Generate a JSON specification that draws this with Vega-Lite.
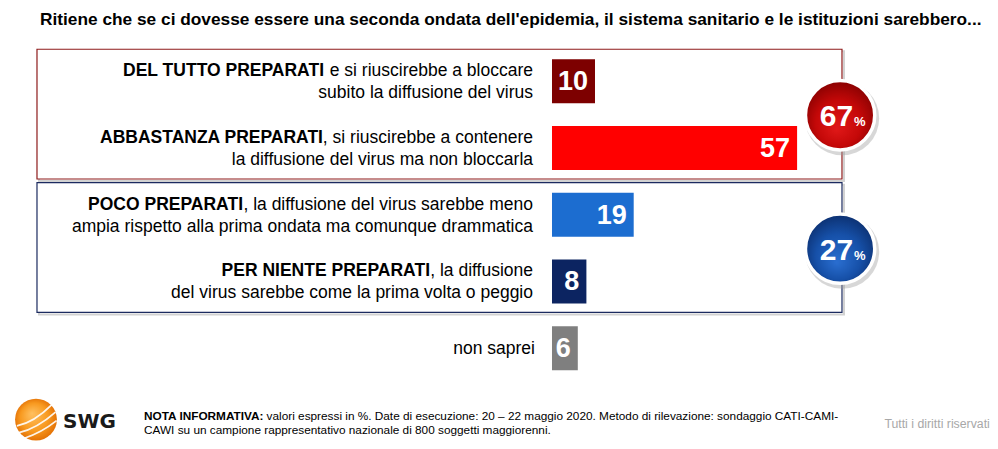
{
  "$schema": "https://vega.github.io/schema/vega-lite/v6.json",
  "width": 998,
  "height": 449,
  "autosize": {"type": "fit", "contains": "padding"},
  "padding": 0,
  "background": "white",
  "config": {"view": {"stroke": null}, "font": "Liberation Sans"},
  "datasets": {
    "risposte": [
      {"ordine": 1, "risposta": "Del tutto preparati", "grassetto": "DEL TUTTO PREPARATI", "riga1": " e si riuscirebbe a bloccare", "riga2": "subito la diffusione del virus", "valore": 10},
      {"ordine": 2, "risposta": "Abbastanza preparati", "grassetto": "ABBASTANZA PREPARATI", "riga1": ", si riuscirebbe a contenere", "riga2": "la diffusione del virus ma non bloccarla", "valore": 57},
      {"ordine": 3, "risposta": "Poco preparati", "grassetto": "POCO PREPARATI", "riga1": ", la diffusione del virus sarebbe meno", "riga2": "ampia rispetto alla prima ondata ma comunque drammatica", "valore": 19},
      {"ordine": 4, "risposta": "Per niente preparati", "grassetto": "PER NIENTE PREPARATI", "riga1": ", la diffusione", "riga2": "del virus sarebbe come la prima volta o peggio", "valore": 8},
      {"ordine": 5, "risposta": "Non saprei", "grassetto": "", "riga1": "non saprei", "riga2": "", "valore": 6}
    ],
    "gruppi": [
      {"gruppo": "Preparati", "da": 1, "a": 2, "totale": 67},
      {"gruppo": "Impreparati", "da": 3, "a": 4, "totale": 27}
    ],
    "testi": [
      {"testo": "Ritiene che se ci dovesse essere una seconda ondata dell'epidemia, il sistema sanitario e le istituzioni sarebbero..."}
    ]
  },
  "layer": [
    {
      "data": {"name": "gruppi"},
      "mark": {"type": "rect", "fillOpacity": 0, "stroke": "#d2d2d2", "strokeWidth": 2, "xOffset": 2, "x2Offset": 2, "yOffset": -30, "y2Offset": 33},
      "encoding": {
        "x": {"datum": -119.77, "type": "quantitative", "scale": {"domain": [-128.372, 103.721], "nice": false, "zero": false}, "axis": null},
        "x2": {"datum": 67.44},
        "y": {"field": "da", "type": "quantitative", "scale": {"domain": [-0.1429, 6.4359], "reverse": true, "nice": false, "zero": false}, "axis": null},
        "y2": {"field": "a"}
      }
    },
    {
      "data": {"name": "gruppi"},
      "mark": {"type": "rect", "fill": "white", "strokeWidth": 1.2, "yOffset": -32, "y2Offset": 31},
      "encoding": {
        "x": {"datum": -119.77, "type": "quantitative"}, "x2": {"datum": 67.44},
        "y": {"field": "da", "type": "quantitative"}, "y2": {"field": "a"},
        "stroke": {"field": "gruppo", "type": "nominal", "scale": {"domain": ["Preparati", "Impreparati"], "range": ["#8e1b1b", "#1c2b60"]}, "legend": null}
      }
    },
    {
      "data": {"name": "risposte"},
      "mark": {"type": "bar", "orient": "horizontal", "size": 44},
      "encoding": {
        "x": {"field": "valore", "type": "quantitative"},
        "x2": {"datum": 0},
        "y": {"field": "ordine", "type": "quantitative"},
        "color": {"field": "risposta", "type": "nominal", "scale": {"domain": ["Del tutto preparati", "Abbastanza preparati", "Poco preparati", "Per niente preparati", "Non saprei"], "range": ["#7d0000", "#ff0000", "#1c6dd0", "#0c2461", "#7f7f7f"]}, "legend": null}
      }
    },
    {
      "data": {"name": "risposte"},
      "mark": {"type": "text", "align": "right", "baseline": "middle", "dx": -7, "dy": 1, "fontSize": 27, "fontWeight": "bold", "color": "white"},
      "encoding": {"x": {"field": "valore", "type": "quantitative"}, "y": {"field": "ordine", "type": "quantitative"}, "text": {"field": "valore", "type": "quantitative"}}
    },
    {
      "data": {"name": "risposte"},
      "transform": [{"filter": "datum.ordine < 5"}],
      "mark": {"type": "text", "align": "right", "baseline": "alphabetic", "dx": -19, "dy": -5, "fontSize": 17.5, "color": "#000000"},
      "encoding": {"x": {"datum": 0, "type": "quantitative"}, "y": {"field": "ordine", "type": "quantitative"}, "text": {"field": "riga1"}}
    },
    {
      "data": {"name": "risposte"},
      "transform": [{"filter": "datum.ordine < 5"}],
      "mark": {"type": "text", "align": "right", "baseline": "alphabetic", "dx": -19, "dy": 17, "fontSize": 17.5, "color": "#000000"},
      "encoding": {"x": {"datum": 0, "type": "quantitative"}, "y": {"field": "ordine", "type": "quantitative"}, "text": {"field": "riga2"}}
    },
    {
      "data": {"name": "risposte"},
      "transform": [{"filter": "datum.ordine == 1"}],
      "mark": {"type": "text", "align": "right", "baseline": "alphabetic", "dx": -228, "dy": -5, "fontSize": 17.5, "fontWeight": "bold", "color": "#000000"},
      "encoding": {"x": {"datum": 0, "type": "quantitative"}, "y": {"field": "ordine", "type": "quantitative"}, "text": {"field": "grassetto"}}
    },
    {
      "data": {"name": "risposte"},
      "transform": [{"filter": "datum.ordine == 2"}],
      "mark": {"type": "text", "align": "right", "baseline": "alphabetic", "dx": -229, "dy": -5, "fontSize": 17.5, "fontWeight": "bold", "color": "#000000"},
      "encoding": {"x": {"datum": 0, "type": "quantitative"}, "y": {"field": "ordine", "type": "quantitative"}, "text": {"field": "grassetto"}}
    },
    {
      "data": {"name": "risposte"},
      "transform": [{"filter": "datum.ordine == 3"}],
      "mark": {"type": "text", "align": "right", "baseline": "alphabetic", "dx": -309, "dy": -5, "fontSize": 17.5, "fontWeight": "bold", "color": "#000000"},
      "encoding": {"x": {"datum": 0, "type": "quantitative"}, "y": {"field": "ordine", "type": "quantitative"}, "text": {"field": "grassetto"}}
    },
    {
      "data": {"name": "risposte"},
      "transform": [{"filter": "datum.ordine == 4"}],
      "mark": {"type": "text", "align": "right", "baseline": "alphabetic", "dx": -122, "dy": -5, "fontSize": 17.5, "fontWeight": "bold", "color": "#000000"},
      "encoding": {"x": {"datum": 0, "type": "quantitative"}, "y": {"field": "ordine", "type": "quantitative"}, "text": {"field": "grassetto"}}
    },
    {
      "data": {"name": "risposte"},
      "transform": [{"filter": "datum.ordine == 5"}],
      "mark": {"type": "text", "align": "right", "baseline": "alphabetic", "dx": -17, "dy": 6, "fontSize": 17.5, "color": "#000000"},
      "encoding": {"x": {"datum": 0, "type": "quantitative"}, "y": {"field": "ordine", "type": "quantitative"}, "text": {"field": "riga1"}}
    },
    {
      "data": {"name": "gruppi"},
      "mark": {"type": "point", "shape": "circle", "filled": true, "size": 5500, "color": "#9a9a9a", "opacity": 0.4, "xOffset": 2, "yOffset": 37},
      "encoding": {"x": {"datum": 67, "type": "quantitative"}, "y": {"field": "da", "type": "quantitative"}}
    },
    {
      "data": {"name": "gruppi"},
      "transform": [{"filter": "datum.gruppo == 'Preparati'"}],
      "mark": {"type": "point", "shape": "circle", "filled": true, "opacity": 1, "size": 4800, "stroke": "white", "strokeWidth": 3.5, "yOffset": 34,
        "fill": {"gradient": "radial", "x1": 0.45, "y1": 0.7, "r1": 0, "x2": 0.5, "y2": 0.55, "r2": 0.6, "stops": [{"offset": 0, "color": "#e01818"}, {"offset": 0.55, "color": "#c40808"}, {"offset": 1, "color": "#7e0000"}]}},
      "encoding": {"x": {"datum": 67, "type": "quantitative"}, "y": {"field": "da", "type": "quantitative"}}
    },
    {
      "data": {"name": "gruppi"},
      "transform": [{"filter": "datum.gruppo == 'Impreparati'"}],
      "mark": {"type": "point", "shape": "circle", "filled": true, "opacity": 1, "size": 4800, "stroke": "white", "strokeWidth": 3.5, "yOffset": 34,
        "fill": {"gradient": "radial", "x1": 0.45, "y1": 0.7, "r1": 0, "x2": 0.5, "y2": 0.55, "r2": 0.6, "stops": [{"offset": 0, "color": "#2a6ed0"}, {"offset": 0.55, "color": "#1650a8"}, {"offset": 1, "color": "#0a2a66"}]}},
      "encoding": {"x": {"datum": 67, "type": "quantitative"}, "y": {"field": "da", "type": "quantitative"}}
    },
    {
      "data": {"name": "gruppi"},
      "mark": {"type": "text", "align": "right", "baseline": "alphabetic", "dx": 13, "dy": 45, "fontSize": 30, "fontWeight": "bold", "color": "white"},
      "encoding": {"x": {"datum": 67, "type": "quantitative"}, "y": {"field": "da", "type": "quantitative"}, "text": {"field": "totale", "type": "quantitative"}}
    },
    {
      "data": {"name": "gruppi"},
      "mark": {"type": "text", "align": "left", "baseline": "alphabetic", "dx": 14, "dy": 45, "fontSize": 13, "fontWeight": "bold", "color": "white", "text": "%"},
      "encoding": {"x": {"datum": 67, "type": "quantitative"}, "y": {"field": "da", "type": "quantitative"}}
    },
    {
      "data": {"name": "testi"},
      "mark": {"type": "text", "align": "left", "baseline": "alphabetic", "fontSize": 17.3, "fontWeight": "bold", "color": "#000000"},
      "encoding": {"x": {"datum": -119.07, "type": "quantitative"}, "y": {"datum": 0.15, "type": "quantitative"}, "text": {"field": "testo"}}
    },
    {
      "data": {"name": "testi"},
      "mark": {"type": "point", "shape": "circle", "filled": true, "size": 1750, "opacity": 1,
        "fill": {"gradient": "radial", "x1": 0.4, "y1": 0.35, "r1": 0, "x2": 0.5, "y2": 0.5, "r2": 0.55, "stops": [{"offset": 0, "color": "#ffc060"}, {"offset": 0.6, "color": "#f89a20"}, {"offset": 1, "color": "#e06a00"}]}},
      "encoding": {"x": {"datum": -120, "type": "quantitative"}, "y": {"datum": 6.07, "type": "quantitative"}}
    },
    {
      "data": {"name": "testi"},
      "mark": {"type": "point", "filled": false, "size": 1800, "stroke": "white", "strokeWidth": 1.8, "opacity": 0.9,
        "shape": "M -0.9 0.3 Q -0.1 0.15 0.75 -0.7 M -0.8 0.62 Q 0.05 0.42 0.92 -0.35 M -0.55 0.88 Q 0.25 0.62 0.97 0.05"},
      "encoding": {"x": {"datum": -120, "type": "quantitative"}, "y": {"datum": 6.07, "type": "quantitative"}}
    },
    {
      "data": {"name": "testi"},
      "mark": {"type": "text", "align": "left", "baseline": "alphabetic", "font": "DejaVu Sans", "fontSize": 20, "fontWeight": "bold", "color": "#1a1a1a", "text": "SWG"},
      "encoding": {"x": {"datum": -113.7, "type": "quantitative"}, "y": {"datum": 6.19, "type": "quantitative"}}
    },
    {
      "data": {"name": "testi"},
      "mark": {"type": "text", "align": "left", "baseline": "alphabetic", "fontSize": 11.8, "fontWeight": "bold", "color": "#000000", "text": "NOTA INFORMATIVA:"},
      "encoding": {"x": {"datum": -94.88, "type": "quantitative"}, "y": {"datum": 6.07, "type": "quantitative"}}
    },
    {
      "data": {"name": "testi"},
      "mark": {"type": "text", "align": "left", "baseline": "alphabetic", "dx": 122.6, "fontSize": 11.8, "color": "#000000", "text": " valori espressi in %. Date di esecuzione: 20 – 22 maggio 2020. Metodo di rilevazione: sondaggio CATI-CAMI-"},
      "encoding": {"x": {"datum": -94.88, "type": "quantitative"}, "y": {"datum": 6.07, "type": "quantitative"}}
    },
    {
      "data": {"name": "testi"},
      "mark": {"type": "text", "align": "left", "baseline": "alphabetic", "fontSize": 11.8, "color": "#000000", "text": "CAWI su un campione rappresentativo nazionale di 800 soggetti maggiorenni."},
      "encoding": {"x": {"datum": -94.88, "type": "quantitative"}, "y": {"datum": 6.29, "type": "quantitative"}}
    },
    {
      "data": {"name": "testi"},
      "mark": {"type": "text", "align": "left", "baseline": "alphabetic", "fontSize": 12.3, "color": "#a8a8a8", "text": "Tutti i diritti riservati"},
      "encoding": {"x": {"datum": 77.3, "type": "quantitative"}, "y": {"datum": 6.2, "type": "quantitative"}}
    }
  ]
}
